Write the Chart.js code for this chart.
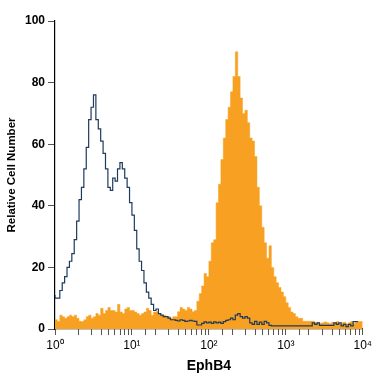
<!DOCTYPE html>
<html>
<head>
<meta charset="utf-8">
<script src="https://cdn.jsdelivr.net/npm/chart.js@4"></script>
<style>
	html, body { margin: 0; padding: 0; background: #fff; }
	canvas { display: block; }
</style>
</head>
<body>
<canvas id="hist" width="375" height="375"></canvas>
<script>
// 128 channels over 4 decades (32 per decade)
const binsPerDecade = 32

// isotype control (blue outline)
const controlCounts = [
	11, 10, 10, 12.5, 15, 17, 20, 22, 24.5, 29, 35, 42, 46, 52, 59, 68,
	72, 76, 68, 65, 61, 57, 52, 46, 45, 49, 48, 52, 54, 52, 49, 46,
	41, 37, 32, 26, 22, 19, 15, 12, 10, 8, 6, 6.5, 5, 4.5, 4, 4,
	3.5, 3, 3, 2.8, 2.6, 3, 2.8, 2.5, 2.6, 2.8, 2.6, 2.5, 1.3, 1.3,
	1.8, 2.3, 2, 2.2, 1.8, 2.3, 2, 2.2, 1.8, 2.4, 2.8, 3, 3.5, 3, 4.5, 5,
	4, 3.5, 4, 3.5, 2, 1.5, 2.5, 1.5, 2.2, 1.5, 2.5, 2, 1.2, 1, 1, 1,
	1, 1, 1, 1, 1, 1, 1, 1, 1, 1, 1, 1, 1, 1, 2, 1.5,
	2, 1.2, 1.2, 1.2, 1.2, 1.2, 1.2, 2, 1.5, 2, 1, 1.5, 0.8, 1.5, 1, 2.4
]

// EphB4 stained cells (orange fill)
const ephb4Counts = [
	3.5, 3, 2.4, 4.5, 4, 3.5, 4, 4.5, 4, 4.5, 3.5, 2.5, 2.4, 3, 4, 4.5,
	3.5, 4, 5, 4.5, 6.7, 5, 6, 7, 6, 6, 5.5, 8, 5.5, 5, 6.5, 7,
	6, 6, 5.5, 5, 4.5, 5, 5.5, 6.7, 6, 4.5, 5.5, 5.6, 5, 4.5, 4.5, 4,
	4, 3.5, 4, 4, 5.6, 7, 6.5, 6, 7, 6.5, 5.6, 6, 9, 11.5, 14, 18,
	17, 22, 28, 29, 41, 47, 55, 62, 68, 72, 77, 82, 90, 82, 75, 70,
	71, 67, 62, 61, 56, 46, 40, 33, 28, 23, 27, 20, 17, 15, 13.5, 12,
	10.5, 8.5, 7, 5.5, 5, 4, 3.5, 3.5, 2.5, 2.5, 2.5, 2.5, 2.5, 2, 2.2, 1.8,
	2, 2.3, 2, 1.7, 2.2, 2, 2.4, 1.8, 2, 2.2, 1.6, 2, 2.4, 1.8, 2.2, 2.4
]

const yTicks = [0, 20, 40, 60, 80, 100]
const decadeLabels = ["10\u2070", "10\u00b9", "10\u00b2", "10\u00b3", "10\u2074"]

const toPoints = counts => {
	const pts = counts.map((c, i) => ({ x: Math.pow(10, i / binsPerDecade), y: c }))
	pts.push({ x: Math.pow(10, counts.length / binsPerDecade), y: counts[counts.length - 1] })
	return pts
}

const font = "'Liberation Sans', Arial, sans-serif"

new Chart(document.getElementById("hist"), {
	type: "line",
	data: {
		datasets: [{
			label: "Isotype",
			data: toPoints(controlCounts),
			stepped: "after",
			borderColor: "#1e3a5c",
			borderWidth: 1.2,
			pointRadius: 0,
			fill: false,
			order: 0
		}, {
			label: "EphB4",
			data: toPoints(ephb4Counts),
			stepped: "after",
			borderColor: "#f7a021",
			backgroundColor: "#f7a021",
			borderWidth: 0.5,
			pointRadius: 0,
			fill: "origin",
			order: 1
		}]
	},
	options: {
		responsive: false,
		animation: false,
		events: [],
		layout: { padding: { left: 0, top: 21, right: 9, bottom: 0 } },
		plugins: { legend: { display: false }, tooltip: { enabled: false } },
		scales: {
			x: {
				type: "logarithmic",
				min: 1,
				max: 10000,
				afterFit: scale => { scale.height = 46 },
				border: { display: true, color: "#000", width: 1.2 },
				grid: { drawOnChartArea: false, drawTicks: true, tickLength: 6, color: "#555" },
				ticks: {
					autoSkip: false,
					maxRotation: 0,
					padding: 3,
					color: "#000",
					font: { family: font, size: 12 },
					callback: v => {
						const p = Math.log10(v)
						return Math.abs(p - Math.round(p)) < 1e-9 ? decadeLabels[Math.round(p)] : ""
					}
				},
				title: {
					display: true,
					text: "EphB4",
					color: "#000",
					font: { family: font, size: 14, weight: "bold" },
					padding: { top: 3, bottom: 0 }
				}
			},
			y: {
				min: 0,
				max: 100,
				afterBuildTicks: scale => { scale.ticks = yTicks.map(v => ({ value: v })) },
				afterFit: scale => { scale.width = 55 },
				border: { display: true, color: "#000", width: 1.2 },
				grid: { drawOnChartArea: false, drawTicks: true, tickLength: 7, color: "#555" },
				ticks: {
					autoSkip: false,
					padding: 3,
					color: "#000",
					font: { family: font, size: 12, weight: "bold" }
				},
				title: {
					display: true,
					text: "Relative Cell Number",
					color: "#000",
					font: { family: font, size: 11.5, weight: "bold" },
					padding: { top: 5, bottom: 0 }
				}
			}
		}
	}
})
</script>
</body>
</html>
